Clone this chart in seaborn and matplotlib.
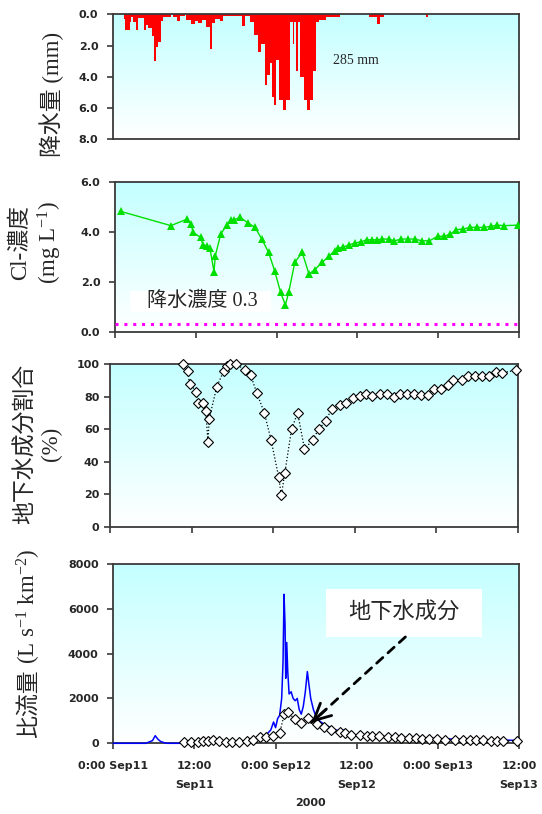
import numpy as np
import matplotlib
matplotlib.use('Agg')
import matplotlib.pyplot as plt
from matplotlib.colors import LinearSegmentedColormap
from matplotlib.patches import Rectangle
import seaborn as sns

# time axis: hours after 0:00 Sep11 2000
xtick_hours = [0, 12, 24, 36, 48, 60]
xtick_labels = ['0:00 Sep11', '12:00\nSep11', '0:00 Sep12',
                '12:00\nSep12', '0:00 Sep13', '12:00\nSep13']

# rainfall (mm) per interval
rain_start = [1.6, 1.8, 2.5, 2.7, 2.9, 3.35, 3.7, 4.6, 4.9, 5.1, 5.7, 6.0, 6.3, 6.65,
              7.05, 7.4, 8.8, 9.5, 9.9, 10.8, 11.5, 12.1, 12.6, 13.1, 13.8, 14.3,
              14.6, 15.1, 15.8, 16.3, 19.0, 19.5, 20.2, 20.9, 21.4, 21.8, 22.4,
              22.75, 23.2, 23.5, 23.8, 24.1, 24.6, 25.1, 25.6, 26.1, 26.6, 26.8,
              27.1, 27.3, 27.7, 28.3, 28.65, 29.05, 29.55, 30.0, 30.5, 31.5,
              37.8, 39.0, 39.5, 46.2]
rain_end = [1.8, 2.5, 2.7, 2.9, 3.35, 3.7, 4.6, 4.9, 5.1, 5.7, 6.0, 6.3, 6.65, 7.05,
            7.4, 8.6, 9.5, 9.9, 10.7, 11.5, 12.1, 12.6, 13.1, 13.8, 14.3, 14.6,
            15.1, 15.8, 16.3, 19.0, 19.5, 20.2, 20.9, 21.4, 21.8, 22.4, 22.75,
            23.2, 23.5, 23.8, 24.1, 24.6, 25.1, 25.6, 26.1, 26.6, 26.8, 27.1,
            27.3, 27.7, 28.3, 28.65, 29.05, 29.55, 30.0, 30.5, 31.5, 33.5,
            39.0, 39.5, 40.0, 46.5]
rain_mm = [0.3, 1.0, 0.5, 0.2, 0.5, 1.0, 0.25, 1.0, 0.7, 0.9, 1.4, 3.0, 2.1, 1.8,
           0.4, 0.2, 0.2, 0.45, 0.1, 0.35, 0.6, 0.45, 0.55, 0.35, 0.8, 2.2,
           0.55, 0.3, 0.45, 0.12, 0.75, 0.1, 0.5, 1.3, 2.4, 1.9, 4.5,
           3.9, 3.1, 5.3, 5.8, 2.9, 5.5, 6.1, 5.5, 0.5, 1.9, 0.5,
           3.6, 0.5, 4.0, 5.5, 6.1, 5.5, 3.6, 0.5, 0.35, 0.15,
           0.15, 0.6, 0.15, 0.2]

# stream water Cl- concentration (mg/L)
cl_hour = [0.87, 8.3, 10.7, 11.3, 11.6, 12.7, 13.1, 13.6, 14.1, 14.7, 14.9, 15.7, 16.6,
           17.2, 17.7, 18.6, 19.8, 20.8, 21.8, 22.8, 23.7, 24.6, 25.3, 25.8, 26.7,
           27.8, 28.8, 29.7, 30.7, 31.8, 32.6, 33.1, 33.8, 34.7, 35.6, 36.5, 37.4,
           38.2, 38.9, 39.7, 40.7, 41.5, 42.5, 43.5, 44.5, 45.6, 46.7, 47.9, 48.9,
           49.8, 50.7, 51.7, 52.7, 53.7, 54.8, 55.8, 56.8, 57.8, 59.9]
cl_conc = [4.83, 4.26, 4.52, 4.32, 3.99, 3.79, 3.48, 3.45, 3.35, 2.41, 3.05, 3.92, 4.28,
           4.50, 4.50, 4.59, 4.36, 4.19, 3.72, 3.19, 2.45, 1.58, 1.07, 1.58, 2.78,
           3.19, 2.32, 2.49, 2.78, 3.03, 3.25, 3.35, 3.39, 3.48, 3.56, 3.61, 3.69,
           3.69, 3.69, 3.72, 3.72, 3.65, 3.72, 3.72, 3.72, 3.65, 3.65, 3.83, 3.83,
           3.92, 4.10, 4.12, 4.19, 4.19, 4.19, 4.23, 4.28, 4.26, 4.28]
rain_cl = 0.3

# groundwater fraction (%)
gw_pct_hour = [10.7, 11.4, 11.7, 12.7, 12.9, 13.7, 14.1, 14.4, 14.6, 15.7, 16.7, 17.2,
               17.7, 18.6, 19.8, 20.7, 21.6, 22.7, 23.7, 24.8, 25.2, 25.7, 26.7, 27.6,
               28.6, 29.8, 30.7, 31.7, 32.6, 33.8, 34.7, 35.7, 36.7, 37.7, 38.6, 39.7,
               40.7, 41.7, 42.7, 43.7, 44.7, 45.7, 46.7, 47.6, 48.7, 49.7, 50.5, 51.7,
               52.7, 53.7, 54.7, 55.8, 56.8, 57.7, 59.7]
gw_pct = [100, 96, 88, 83, 76, 76, 71, 52, 66.5, 86, 95.5, 98.6,
          100, 100, 96.3, 93, 82, 70, 53, 30.6, 19.3, 32.7, 60, 70,
          47.7, 53.3, 60, 64.7, 72.4, 74.6, 76.3, 79.3, 80.3, 81.3, 80.5, 81.7,
          81.7, 79.7, 81.7, 81.7, 81.7, 80.7, 80.7, 84.8, 84.8, 87.2, 90.3, 90.3,
          92.9, 92.9, 92.9, 92.9, 95.3, 94.5, 96.3]

# specific discharge (L s-1 km-2)
flow_hour = [0, 4.8, 5.3, 5.8, 6.2, 6.6, 7.0, 7.6, 8.0, 10.0, 12.0, 13.5, 14.2, 14.6,
             15.2, 17.0, 19.0, 20.5, 21.3, 22.0, 22.7, 23.3, 23.7, 24.0, 24.3, 24.6,
             24.9, 25.1, 25.25, 25.4, 25.5, 25.65, 25.8, 26.0, 26.3, 26.6, 26.9, 27.2,
             27.5, 27.8, 28.1, 28.4, 28.7, 28.9, 29.2, 29.6, 30.1, 30.7, 31.2, 32.0,
             32.9, 33.6, 34.2, 34.6, 35.0, 35.8, 37.0, 38.5, 40.0, 42.0, 44.0, 46.0,
             48.0, 50.0, 52.0, 54.0, 56.0, 58.0, 60.0]
flow = [0, 0, 60, 120, 340, 180, 80, 20, 0, 0, 30, 60, 220, 180,
        80, 60, 70, 120, 260, 300, 400, 600, 950, 700, 1100, 1250,
        2000, 3600, 6650, 5300, 2900, 4500, 3200, 2200, 2300, 2000, 1900, 2000,
        1500, 1300, 1650, 2300, 3200, 2700, 2000, 1500, 1100, 950, 850, 720,
        600, 530, 600, 480, 420, 380, 360, 330, 300, 280, 250, 230,
        210, 190, 170, 160, 150, 140, 130]

gw_flow_hour = [10.5, 11.5, 12.5, 13.3, 14.0, 14.7, 15.6, 16.6, 17.6, 18.6, 19.7, 20.7,
                21.7, 22.6, 23.6, 24.6, 25.3, 25.8, 26.8, 27.8, 28.8, 30.1, 31.1, 32.2,
                33.5, 34.2, 35.2, 36.5, 37.5, 38.3, 39.3, 40.6, 41.6, 42.6, 43.7, 44.7,
                45.7, 46.7, 47.8, 49.0, 50.5, 51.7, 52.7, 53.7, 54.7, 55.8, 56.8, 57.7,
                59.7]
gw_flow = [45, 75, 75, 120, 120, 165, 90, 75, 75, 75, 120, 150,
           270, 270, 343, 450, 1313, 1388, 1090, 900, 1134, 866, 716, 597,
           493, 448, 388, 373, 343, 313, 313, 269, 269, 239, 224, 224,
           194, 194, 194, 150, 150, 140, 140, 130, 130, 120, 120, 120,
           110]


sns.set_style('ticks')
plt.rcParams['font.family'] = ['DejaVu Sans']
plt.rcParams['mathtext.fontset'] = 'custom'
plt.rcParams['mathtext.rm'] = 'Liberation Serif'
plt.rcParams['mathtext.default'] = 'rm'

LABEL_FONT = ['Liberation Serif', 'Noto Sans CJK JP']
W, H = 542, 814
bg_cmap = LinearSegmentedColormap.from_list('bg', ['#c4ffff', '#ffffff'])

fig = plt.figure(figsize=(W / 100, H / 100), dpi=100)


def make_axes(left, top, right, bottom):
    return fig.add_axes([left / W, 1 - bottom / H, (right - left) / W, (bottom - top) / H])


def style_axis(ax, ylim, yticks, fmt, pad, show_xticks=True):
    ax.imshow(np.linspace(0, 1, 256).reshape(-1, 1), cmap=bg_cmap, aspect='auto',
              extent=[0, 1, 0, 1], transform=ax.transAxes, zorder=0)
    ax.set_xlim(0, 60)
    ax.set_ylim(*ylim)
    ax.set_yticks(yticks)
    ax.set_yticklabels([fmt % v for v in yticks])
    for sp in ax.spines.values():
        sp.set_color('#3a3a3a')
        sp.set_linewidth(1.3)
    ax.tick_params(axis='y', direction='out', length=4, width=1.2, color='#3a3a3a',
                   pad=pad, labelsize=8)
    for t in ax.get_yticklabels():
        t.set_fontweight('bold')
    ax.set_xticks(xtick_hours)
    if show_xticks:
        ax.tick_params(axis='x', direction='out', length=4, width=1.2, color='#3a3a3a')
    else:
        ax.tick_params(axis='x', length=0)
    ax.set_xticklabels([])
    ax.set_xlabel('')
    ax.set_ylabel('')


def ylabel(x, y, text, size=16.5, linespacing=1.2, va='center'):
    fig.text(x / W, 1 - y / H, text, rotation=90, ha='center', va=va,
             family=LABEL_FONT, fontsize=size, linespacing=linespacing)


# ---- rainfall
ax1 = make_axes(113, 14.3, 519, 139.3)
ax1.bar(rain_start, rain_mm, width=np.subtract(rain_end, rain_start), align='edge',
        color='#ff0000', linewidth=0, zorder=2)
style_axis(ax1, (8, 0), [0, 2, 4, 6, 8], '%.1f', 6.5, show_xticks=False)
ax1.text(35.9, 2.93, '285 mm', family='Liberation Serif', fontsize=10,
         ha='center', va='center')
ylabel(52, 94, '降水量 (mm)')

# ---- Cl concentration
ax2 = make_axes(115, 182.3, 519, 331.7)
sns.lineplot(x=cl_hour, y=cl_conc, ax=ax2, color='#00e000', lw=1, marker='^',
             markersize=6, markeredgewidth=0, estimator=None, sort=False, zorder=3)
ax2.plot([0, 60], [rain_cl, rain_cl], color='#ff00ff', lw=2.2,
         linestyle=(0, (1, 1.9)), zorder=3)
style_axis(ax2, (0, 6), [0, 2, 4, 6], '%.1f', 6.5)
ax2.add_patch(Rectangle((2.3, 0.78), 20.8, 0.87, facecolor='white', edgecolor='none',
                        zorder=2))
ax2.text(4.7, 1.2, '降水濃度 0.3', family=LABEL_FONT, fontsize=14.5,
         ha='left', va='center', zorder=4)
ylabel(37, 243, 'Cl-濃度\n(mg L$^{-1}$)', linespacing=1.25)

# ---- groundwater fraction
ax3 = make_axes(110, 364, 518, 526.7)
sns.lineplot(x=gw_pct_hour, y=gw_pct, ax=ax3, color='black', lw=0.9, linestyle=':',
             marker='D', markersize=4.8, markerfacecolor='white',
             markeredgecolor='black', markeredgewidth=0.8,
             estimator=None, sort=False, zorder=3, clip_on=False)
style_axis(ax3, (0, 100), [0, 20, 40, 60, 80, 100], '%d', 3.6)
ylabel(38, 444, '地下水成分割合\n(%)', linespacing=1.25)

# ---- specific discharge
ax4 = make_axes(113.3, 564, 519, 743.3)
sns.lineplot(x=flow_hour, y=flow, ax=ax4, color='#0000ff', lw=1.1,
             estimator=None, sort=False, zorder=3, clip_on=False)
sns.lineplot(x=gw_flow_hour, y=gw_flow, ax=ax4, color='black', lw=0.9, linestyle=':',
             marker='D', markersize=4.8, markerfacecolor='white',
             markeredgecolor='black', markeredgewidth=0.8,
             estimator=None, sort=False, zorder=4, clip_on=False)
style_axis(ax4, (0, 8000), [0, 2000, 4000, 6000, 8000], '%d', 6.5)
ax4.set_xticklabels(xtick_labels)
ax4.tick_params(axis='x', pad=9, labelsize=8)
for t in ax4.get_xticklabels():
    t.set_fontweight('bold')
    t.set_linespacing(2.05)

ax4.add_patch(Rectangle((31.4, 4746), 23.2, 2120, facecolor='white', edgecolor='none',
                        zorder=5))
ax4.text(43, 5806, '地下水成分', family=LABEL_FONT, fontsize=16,
         ha='center', va='center', zorder=6)
head = (29.3, 920)
tail = (43.2, 4746)
ax4.annotate('', xy=head, xytext=tail,
             arrowprops=dict(arrowstyle='-', linestyle=(0, (3, 2.5)), lw=2,
                             color='black', shrinkA=0, shrinkB=0), zorder=6)
near = (head[0] + 0.15 * (tail[0] - head[0]), head[1] + 0.15 * (tail[1] - head[1]))
ax4.annotate('', xy=head, xytext=near,
             arrowprops=dict(arrowstyle='->,head_length=1.2,head_width=0.6', lw=2,
                             color='black', shrinkA=0, shrinkB=0), zorder=6)
# label split in two so the CJK part keeps its font fallback
ylabel(29, 738, '比流量', va='bottom')
ylabel(29, 664, '(L s$^{-1}$ km$^{-2}$)', va='bottom')

fig.text(310 / W, 1 - 803 / H, '2000', ha='center', va='center',
         fontweight='bold', fontsize=8)

fig.savefig('out.png', dpi=100)
